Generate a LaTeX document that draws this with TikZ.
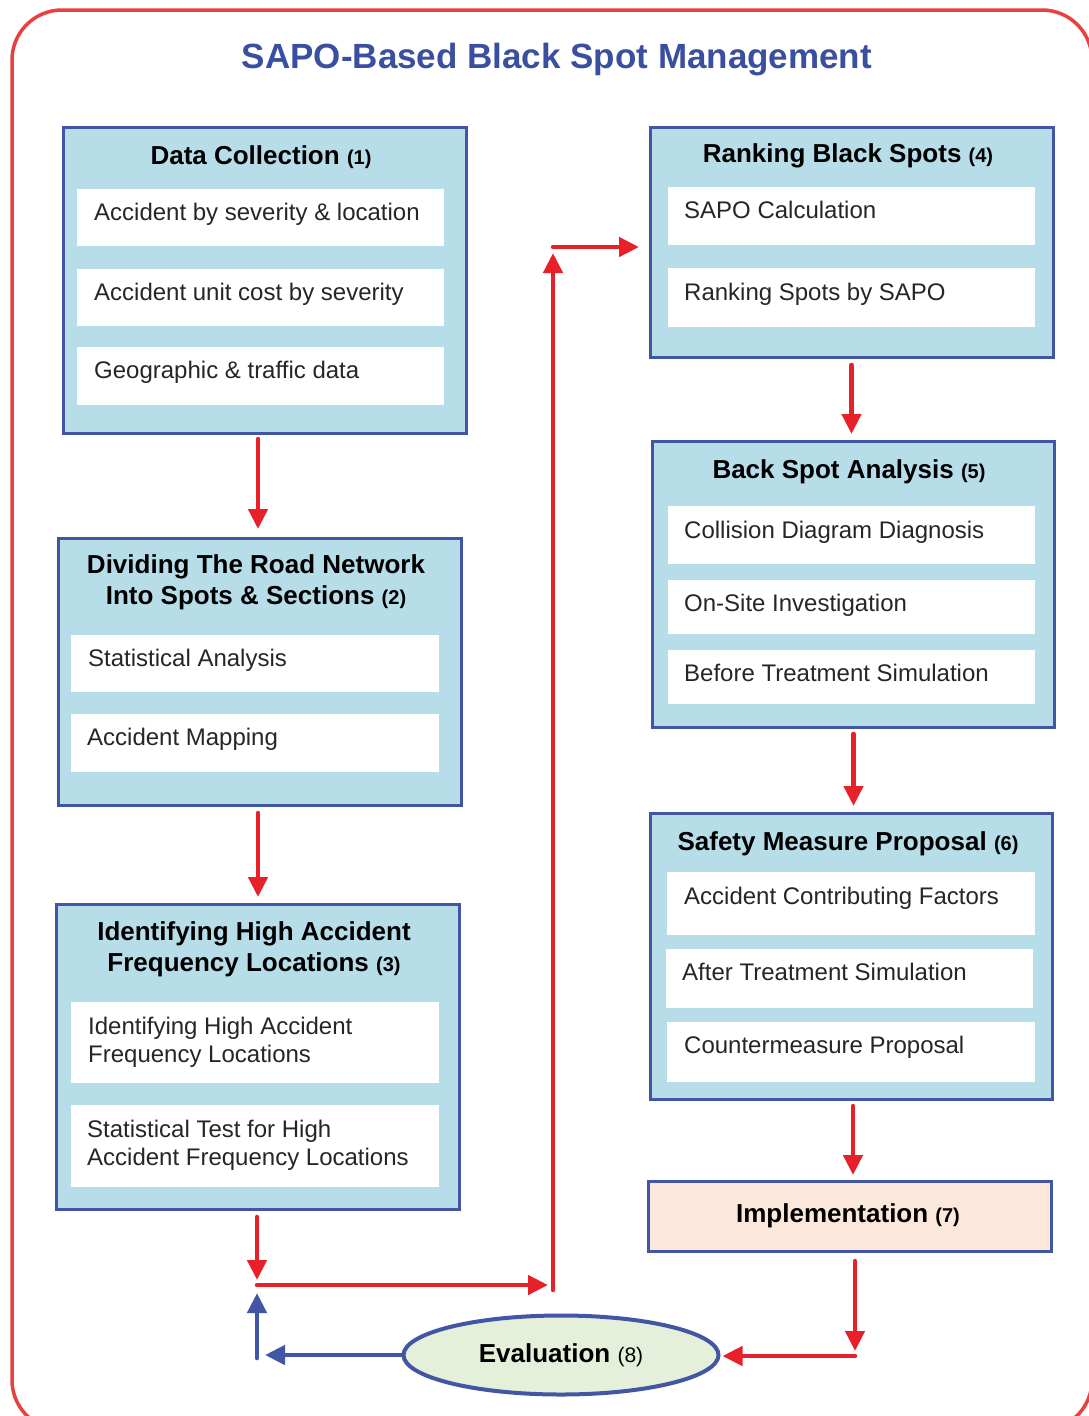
\documentclass[tikz,border=0pt]{standalone}
\usepackage{fontspec}
\setmainfont{Liberation Sans}
\usetikzlibrary{arrows.meta,shapes.geometric,calc}

\definecolor{frameRed}{HTML}{E8403F}
\definecolor{arrowRed}{HTML}{E8202A}
\definecolor{edgeBlue}{HTML}{4355A5}
\definecolor{titleBlue}{HTML}{3A4FA0}
\definecolor{panelFill}{HTML}{B7DDE8}
\definecolor{implFill}{HTML}{FCE8DA}
\definecolor{evalFill}{HTML}{E4F0D9}

\tikzset{
  panel/.style={draw=edgeBlue, fill=panelFill, line width=3pt, anchor=north west, inner sep=0pt},
  itembox/.style={fill=white, draw=none, anchor=north west, inner sep=0pt},
  itemtext/.style={anchor=north west, inner sep=0pt, align=left, font=\fontsize{24}{28}\selectfont, text=black!85},
  headtext/.style={anchor=center, inner sep=0pt, align=center, font=\fontsize{26}{31}\selectfont\bfseries},
  rarrow/.style={draw=arrowRed, line width=4.5pt, line cap=round, -{Triangle[length=20pt,width=19pt]}},
  barrow/.style={draw=edgeBlue, line width=4.5pt, line cap=round, -{Triangle[length=20pt,width=19pt]}},
}
\newcommand{\tagnum}[1]{{\fontsize{20}{22}\selectfont\bfseries #1}}

\begin{document}
\begin{tikzpicture}[x=1pt, y=-1pt]
\useasboundingbox (0,0) rectangle (1089,1416);
\clip (0,0) rectangle (1089,1416);

% outer frame
\draw[frameRed, line width=3.5pt, rounded corners=50pt] (12,10) rectangle (1092,1430);

% title
\node[anchor=center, inner sep=0pt, text=titleBlue, font=\fontsize{35}{40}\selectfont\bfseries] (title) at (557,60) {SAPO-Based Black Spot Management};

% ---- (1) Data Collection
\node[panel, minimum width=403pt, minimum height=306pt] (dc) at (62,126) {};
\node[headtext] (dch) at (261,157) {Data Collection \tagnum{(1)}};
\node[itembox, minimum width=367pt, minimum height=57pt] (dc1) at (77,189) {};
\node[itembox, minimum width=367pt, minimum height=57pt] (dc2) at (77,269) {};
\node[itembox, minimum width=367pt, minimum height=58pt] (dc3) at (77,347) {};
\node[itemtext] (dc1t) at ($(dc1.north west)+(17,14)$) {Accident by severity \& location};
\node[itemtext] (dc2t) at ($(dc2.north west)+(17,14)$) {Accident unit cost by severity};
\node[itemtext] (dc3t) at ($(dc3.north west)+(17,14)$) {Geographic \& traffic data};

% ---- (2) Dividing the road network
\node[panel, minimum width=403pt, minimum height=267pt] (dv) at (57,537) {};
\node[headtext] (dvh) at (256,582) {Dividing The Road Network\\Into Spots \& Sections \tagnum{(2)}};
\node[itembox, minimum width=368pt, minimum height=57pt] (dv1) at (71,635) {};
\node[itembox, minimum width=368pt, minimum height=58pt] (dv2) at (71,714) {};
\node[itemtext] (dv1t) at ($(dv1.north west)+(17,14)$) {Statistical Analysis};
\node[itemtext] (dv2t) at ($(dv2.north west)+(16,14)$) {Accident Mapping};

% ---- (3) Identifying high accident frequency locations
\node[panel, minimum width=403pt, minimum height=305pt] (ih) at (55,903) {};
\node[headtext] (ihh) at (254,949) {Identifying High Accident\\Frequency Locations \tagnum{(3)}};
\node[itembox, minimum width=368pt, minimum height=81pt] (ih1) at (71,1002) {};
\node[itembox, minimum width=368pt, minimum height=82pt] (ih2) at (71,1105) {};
\node[itemtext] (ih1t) at ($(ih1.north west)+(17,15)$) {Identifying High Accident\\Frequency Locations};
\node[itemtext] (ih2t) at ($(ih2.north west)+(16,15)$) {Statistical Test for High\\Accident Frequency Locations};

% ---- (4) Ranking black spots
\node[panel, minimum width=403pt, minimum height=230pt] (rk) at (649,126) {};
\node[headtext] (rkh) at (848,156) {Ranking Black Spots \tagnum{(4)}};
\node[itembox, minimum width=367pt, minimum height=58pt] (rk1) at (668,187) {};
\node[itembox, minimum width=367pt, minimum height=59pt] (rk2) at (668,268) {};
\node[itemtext] (rk1t) at ($(rk1.north west)+(16,14)$) {SAPO Calculation};
\node[itemtext] (rk2t) at ($(rk2.north west)+(16,15)$) {Ranking Spots by SAPO};

% ---- (5) Black spot analysis
\node[panel, minimum width=402pt, minimum height=286pt] (ba) at (651,440) {};
\node[headtext] (bah) at (849,472) {Back Spot Analysis \tagnum{(5)}};
\node[itembox, minimum width=367pt, minimum height=58pt] (ba1) at (668,506) {};
\node[itembox, minimum width=367pt, minimum height=54pt] (ba2) at (668,580) {};
\node[itembox, minimum width=367pt, minimum height=54pt] (ba3) at (668,650) {};
\node[itemtext] (ba1t) at ($(ba1.north west)+(16,15)$) {Collision Diagram Diagnosis};
\node[itemtext] (ba2t) at ($(ba2.north west)+(16,14)$) {On-Site Investigation};
\node[itemtext] (ba3t) at ($(ba3.north west)+(16,14)$) {Before Treatment Simulation};

% ---- (6) Safety measure proposal
\node[panel, minimum width=402pt, minimum height=286pt] (sm) at (649,812) {};
\node[headtext] (smh) at (848,844) {Safety Measure Proposal \tagnum{(6)}};
\node[itembox, minimum width=368pt, minimum height=63pt] (sm1) at (667,872) {};
\node[itembox, minimum width=367pt, minimum height=59pt] (sm2) at (666,949) {};
\node[itembox, minimum width=368pt, minimum height=60pt] (sm3) at (667,1022) {};
\node[itemtext] (sm1t) at ($(sm1.north west)+(17,15)$) {Accident Contributing Factors};
\node[itemtext] (sm2t) at ($(sm2.north west)+(16,14)$) {After Treatment Simulation};
\node[itemtext] (sm3t) at ($(sm3.north west)+(17,14)$) {Countermeasure Proposal};

% ---- (7) Implementation
\node[draw=edgeBlue, fill=implFill, line width=3pt, anchor=north west, inner sep=0pt,
      minimum width=403pt, minimum height=70pt] (im) at (647,1180) {};
\node[headtext] (imh) at ($(im.center)+(-2,-1)$) {Implementation \tagnum{(7)}};

% ---- (8) Evaluation
\node[ellipse, draw=edgeBlue, fill=evalFill, line width=4pt, inner sep=0pt,
      minimum width=315pt, minimum height=79pt, font=\fontsize{26}{31}\selectfont\bfseries] (ev) at (561,1355)
      {Evaluation {\fontsize{21}{22}\selectfont\mdseries (8)}};

% junction points of the loop
\coordinate (j1) at (257,1285);
\coordinate (j2) at (553,1285);
\coordinate (j3) at (553,247);
\coordinate (j4) at (257,1355);
\coordinate (c7) at (855,1356);

% flow arrows
\draw[rarrow, shorten <=4pt, shorten >=8pt] ([xshift=-2pt]dv.north |- dc.south) -- ([xshift=-2pt]dv.north);
\draw[rarrow, shorten <=6pt, shorten >=6pt] (ih.north |- dv.south) -- (ih.north);
\draw[rarrow, shorten <=6pt, shorten >=5pt] (ih.south -| j1) -- (j1);
\draw[rarrow, shorten >=5pt] (j1) -- (j2);
\draw[rarrow, shorten <=-5pt, shorten >=6pt] (j2) -- (j3);
\draw[rarrow, shorten >=10pt] (j3) -- (j3 -| rk.west);
\draw[rarrow, shorten <=6pt, shorten >=6pt] ([xshift=-2pt]ba.north |- rk.south) -- ([xshift=-2pt]ba.north);
\draw[rarrow, shorten <=5pt, shorten >=6pt] ([xshift=2pt]sm.north |- ba.south) -- ([xshift=2pt]sm.north);
\draw[rarrow, shorten <=5pt, shorten >=5pt] ([xshift=3pt]im.north |- sm.south) -- ([xshift=3pt]im.north);
\draw[rarrow, shorten <=8pt, shorten >=5pt] (im.south -| c7) -- (c7);
\draw[rarrow, shorten >=2pt] (c7) -- (c7 -| ev.east);

% return loop
\draw[barrow, shorten >=8pt] (ev.west) -- (j4);
\draw[barrow, shorten <=-3pt, shorten >=8pt] (j4) -- (j1);
\end{tikzpicture}
\end{document}
